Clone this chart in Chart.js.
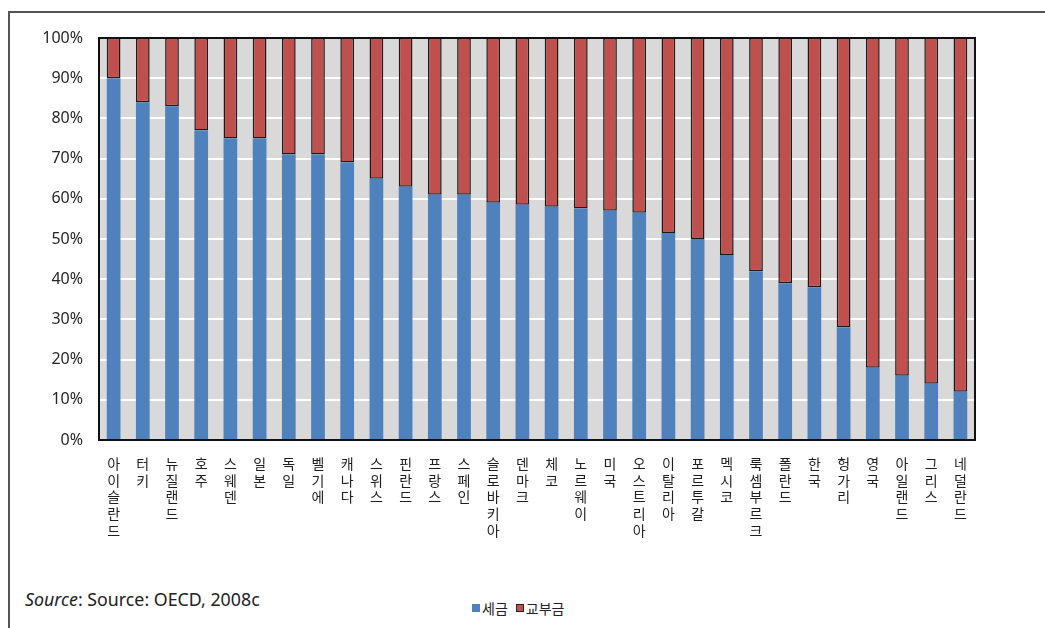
<!DOCTYPE html>
<html lang="ko">
<head>
<meta charset="utf-8">
<title>세금 · 교부금 비중</title>
<script src="https://cdn.jsdelivr.net/npm/chart.js@4.4.1/dist/chart.umd.min.js"></script>
<style>
  html, body { margin: 0; padding: 0; background: #fff; overflow: hidden; }
  body { width: 1045px; height: 628px; position: relative; }
  #frame {
    position: absolute; left: 8px; top: 11px; width: 1100px; height: 700px;
    border-left: 2px solid #555; border-top: 2px solid #555; box-sizing: border-box;
  }
  #chart { position: absolute; left: 0; top: 0; }
  #source {
    position: absolute; left: 25px; top: 587px;
    font: 17.8px "Noto Sans", "Liberation Sans", sans-serif; color: #222;
    white-space: nowrap;
  }
  #source i { font-style: italic; }
  #legend {
    position: absolute; left: 472px; top: 598px;
    font: 14px "Noto Sans CJK KR", sans-serif; color: #222;
    display: flex; align-items: center;
  }
  .sw { display: inline-block; width: 8px; height: 8px; margin-right: 2px; box-sizing: border-box; }
  .item { display: flex; align-items: center; margin-right: 8px; }
</style>
</head>
<body>
<div id="frame"></div>
<canvas id="chart" width="1045" height="580"></canvas>
<div id="source"><i>Source</i>: Source: OECD, 2008c</div>
<div id="legend">
  <span class="item"><span class="sw" style="background:#4f81bd"></span>세금</span>
  <span class="item"><span class="sw" style="background:#c0504d;border:1px solid #222"></span>교부금</span>
</div>
<script>
// Countries, each name stacked one syllable per line under its bar
const countries = [
  '아이슬란드', '터키', '뉴질랜드', '호주', '스웨덴', '일본', '독일', '벨기에',
  '캐나다', '스위스', '핀란드', '프랑스', '스페인', '슬로바키아', '덴마크', '체코',
  '노르웨이', '미국', '오스트리아', '이탈리아', '포르투갈', '멕시코', '룩셈부르크',
  '폴란드', '한국', '헝가리', '영국', '아일랜드', '그리스', '네덜란드'
];

// Share of local revenue from taxes (%)
const taxShare = [
  90, 84, 83, 77, 75, 75, 71, 71, 69, 65, 63, 61, 61, 59, 58.5, 58,
  57.6, 57, 56.5, 51.5, 50, 46, 42, 39, 38, 28, 18, 16, 14, 12
];

// Share of local revenue from grants (%)
const grantShare = [
  10, 16, 17, 23, 25, 25, 29, 29, 31, 35, 37, 39, 39, 41, 41.5, 42,
  42.4, 43, 43.5, 48.5, 50, 54, 58, 61, 62, 72, 82, 84, 86, 88
];

// Y-axis ticks
const yTicks = [0, 10, 20, 30, 40, 50, 60, 70, 80, 90, 100];

const stackedLabels = countries.map(name => Array.from(name));

// Grey plot background behind the bars, black frame around the plot
const plotFrame = {
  id: 'plotFrame',
  beforeDraw(chart) {
    const { ctx, chartArea: a } = chart;
    ctx.save();
    ctx.fillStyle = '#d9d9d9';
    ctx.fillRect(a.left, a.top, a.right - a.left, a.bottom - a.top);
    ctx.restore();
  },
  afterDraw(chart) {
    const { ctx, chartArea: a } = chart;
    ctx.save();
    ctx.strokeStyle = '#111';
    ctx.lineWidth = 2;
    ctx.strokeRect(a.left, a.top, a.right - a.left, a.bottom - a.top);
    ctx.restore();
  }
};

new Chart(document.getElementById('chart'), {
  type: 'bar',
  data: {
    labels: stackedLabels,
    datasets: [
      {
        label: '세금',
        data: taxShare,
        backgroundColor: '#4f81bd',
        borderWidth: 0,
        categoryPercentage: 1,
        barPercentage: 0.47
      },
      {
        label: '교부금',
        data: grantShare,
        backgroundColor: '#c0504d',
        borderColor: '#1a1a1a',
        borderWidth: 1.5,
        borderSkipped: false,
        categoryPercentage: 1,
        barPercentage: 0.47
      }
    ]
  },
  options: {
    responsive: false,
    devicePixelRatio: 1,
    animation: false,
    layout: { padding: { left: 0, top: 38, right: 70, bottom: 0 } },
    plugins: {
      legend: { display: false },
      tooltip: { enabled: false }
    },
    scales: {
      x: {
        stacked: true,
        grid: { display: false, drawTicks: false },
        border: { display: false },
        ticks: {
          autoSkip: false,
          maxRotation: 0,
          minRotation: 0,
          padding: 15,
          color: '#1e1e1e',
          font: { family: '"Noto Sans CJK KR", sans-serif', size: 14, lineHeight: 1.2 }
        },
        afterFit(scale) { scale.height = 140; }
      },
      y: {
        stacked: true,
        min: 0,
        max: 100,
        afterBuildTicks(scale) { scale.ticks = yTicks.map(v => ({ value: v })); },
        grid: {
          color: ctx => (ctx.tick && (ctx.tick.value === 0 || ctx.tick.value === 100)) ? 'rgba(0,0,0,0)' : '#ffffff',
          lineWidth: 2,
          drawTicks: false
        },
        border: { display: false },
        ticks: {
          padding: 16,
          color: '#262626',
          font: { family: '"Noto Sans", sans-serif', size: 16 },
          callback: v => v + '%'
        },
        afterFit(scale) { scale.width = 99; }
      }
    }
  },
  plugins: [plotFrame]
});
</script>
</body>
</html>
